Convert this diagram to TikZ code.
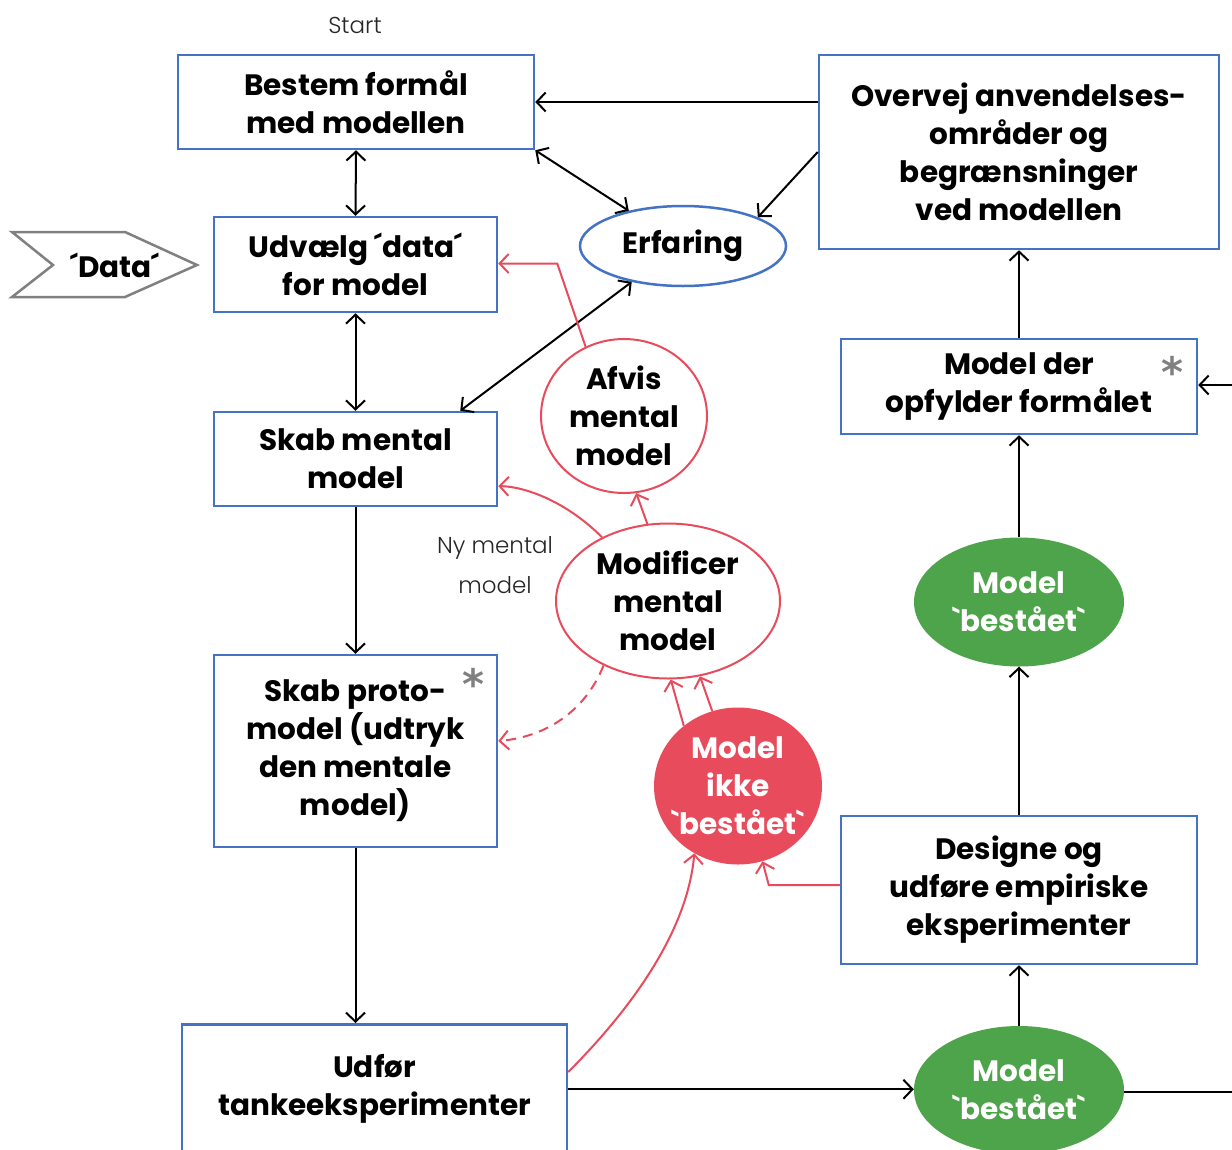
\documentclass[tikz,border=0pt]{standalone}
\usepackage{fontspec}
\setmainfont{Poppins}[Ligatures=TeXOff]
\newfontfamily\lightf{Poppins Light}
\newfontfamily\starf{DejaVu Sans}
\usetikzlibrary{arrows.meta,shapes.geometric,calc}
\definecolor{bblue}{HTML}{4472C4}
\definecolor{rred}{HTML}{E84C5C}
\definecolor{ggreen}{HTML}{4EA44A}
\definecolor{ggray}{HTML}{808080}
\begin{document}
\begin{tikzpicture}[x=1pt,y=-1pt,
  txt/.style={font=\bfseries\fontsize{29.5}{38}\selectfont,align=center},
  box/.style={txt,draw=bblue,line width=2.5pt,fill=white,inner sep=0pt},
  oval/.style={txt,ellipse,inner sep=0pt},
  thin/.style={font=\lightf\fontsize{23}{40}\selectfont,align=center,text=black!85},
  star/.style={font=\starf\bfseries\fontsize{42}{42}\selectfont,text=ggray},
  tip/.style={-{Straight Barb[length=9pt,width=19pt,line width=2pt]}},
  arr/.style={draw=black,line width=2pt,tip},
  darr/.style={draw=black,line width=2pt,{Straight Barb[length=9pt,width=19pt,line width=2pt]}-{Straight Barb[length=9pt,width=19pt,line width=2pt]}},
  rarr/.style={draw=rred,line width=2pt,tip},
  plain/.style={draw=black,line width=2pt}]
\useasboundingbox (0,0) rectangle (1232,1149);
\clip (0,0) rectangle (1232,1149);
\fill[white] (0,0) rectangle (1232,1149);

% nodes
\node[thin] (start) at (355,25) {Start};
\node[box,minimum width=356pt,minimum height=94pt] (bestem) at (356,102) {Bestem formål\\med modellen};
\node[box,minimum width=283pt,minimum height=95pt] (udv) at (355.5,264.5) {Udvælg ´data´\\for model};
\draw[ggray,line width=2.5pt,fill=white] (12,232) -- (125,232) -- (197,265) -- (125,297) -- (12,297) -- (53,265) -- cycle;
\node[txt] (data) at (115,265) {´Data´};
\node[oval,draw=bblue,line width=2.5pt,minimum width=206pt,minimum height=80pt] (erf) at (683,246) {Erfaring};
\node[box,minimum width=400pt,minimum height=194pt] (overvej) at (1019,152) {Overvej anvendelses-\\områder og\\begrænsninger\\ved modellen};
\node[box,minimum width=283pt,minimum height=94pt] (skab) at (355.5,459) {Skab mental\\model};
\node[oval,draw=rred,line width=2pt,fill=white,minimum width=166pt,minimum height=154pt,inner ysep=-4pt] (afvis) at (624,416) {Afvis\\mental\\model};
\node[oval,draw=rred,line width=2pt,fill=white,minimum width=224pt,minimum height=155pt,inner ysep=-4pt] (mod) at (668,601) {Modificer\\mental\\model};
\node[thin] (ny) at (495,565) {Ny mental\\model};
\node[box,minimum width=356pt,minimum height=95pt] (modder) at (1019,386.5) {Model der\\opfylder formålet};
\node[star] (star1) at (1172,372) {*};
\node[oval,fill=ggreen,text=white,minimum width=210pt,minimum height=129pt] (green1) at (1019,602) {Model\\`bestået`};
\node[box,minimum width=283pt,minimum height=192pt] (proto) at (355.5,751) {Skab proto-\\model (udtryk\\den mentale\\model)};
\node[star] (star2) at (473,684) {*};
\node[oval,fill=rred,text=white,minimum width=168pt,minimum height=157pt,inner xsep=-15pt,inner ysep=-5pt] (red) at (738,786) {Model\\ikke\\`bestået`};
\node[box,minimum width=356pt,minimum height=148pt] (des) at (1019,890) {Designe og\\udføre empiriske\\eksperimenter};
\node[box,anchor=north,minimum width=385pt,minimum height=130pt] (udf) at (374.5,1023) {Udfør\\tankeeksperimenter};
\node[oval,fill=ggreen,text=white,minimum width=210pt,minimum height=128pt] (green2) at (1019,1090) {Model\\`bestået`};
\coordinate (rIn) at (1240,385);
\coordinate (rOut) at (1240,1092);

% black connectors
\draw[arr] (overvej.west |- bestem.east) -- (bestem.east);
\draw[darr] (bestem.south east) -- (erf.147);
\draw[arr] (overvej.west) -- (erf.21);
\draw[darr] (bestem.south) -- (udv.north);
\draw[darr] (udv.south) -- (skab.north);
\draw[darr] (erf.215) -- ($(skab.north east)+(-38,0)$);
\draw[arr] (skab.south) -- (proto.north);
\draw[arr] (proto.south) -- (proto.south |- udf.north);
\draw[arr] (udf.east) -- (udf.east -| green2.west);
\draw[arr] (green2.north) -- (des.south);
\draw[arr] (des.north) -- (green1.south);
\draw[arr] (green1.north) -- (modder.south);
\draw[arr] (modder.north) -- (overvej.south);
\draw[arr] (rIn) -- (rIn -| modder.east);
\draw[plain] (green2.east |- rOut) -- (rOut);

% red connectors
\draw[rarr] (afvis.119) -- ($(udv.east)+(59,-1)$) -- ($(udv.east)+(0,-1)$);
\draw[rarr] (mod.105) -- (afvis.279);
\draw[rarr] (mod.136) .. controls (570,505) and (530,487) .. ($(skab.east)+(0,27)$);
\draw[rarr,dashed,dash pattern=on 10pt off 7pt] (mod.225) .. controls (585,712) and (545,737) .. ($(proto.east)+(0,-10)$);
\draw[rarr] (red.132) -- (mod.272);
\draw[rarr] (red.109) -- (mod.293);
\draw[rarr] ($(udf.north east)+(0,49)$) .. controls (640,1000) and (688,925) .. (red.237);
\draw[rarr] ($(des.west)+(0,-5)$) -- ++(-71,0) -- (red.288);
\end{tikzpicture}
\end{document}
